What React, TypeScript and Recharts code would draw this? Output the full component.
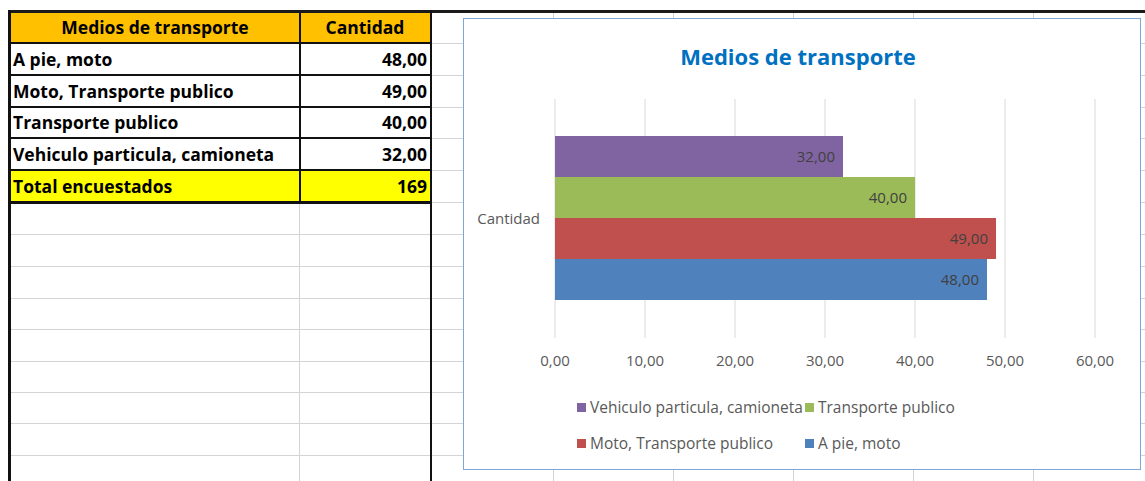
import React from 'react';
import { BarChart, Bar, XAxis, YAxis, CartesianGrid, Legend, LabelList } from 'recharts';

// data from the sheet
const categories = ['A pie, moto', 'Moto, Transporte publico', 'Transporte publico', 'Vehiculo particula, camioneta'];
const values = [48, 49, 40, 32];
const colors = ['#4F81BD', '#C0504D', '#9BBB59', '#8064A2'];
const xTicks = [0, 10, 20, 30, 40, 50, 60];
const rowLabel = 'Cantidad';
const headerLabels = ['Medios de transporte', 'Cantidad'];
const totalLabel = 'Total encuestados';

const fmt = (v: number) => Number(v).toFixed(2).replace('.', ',');

// single category row, one key per medio
const chartData = [Object.fromEntries([['name', rowLabel], ...categories.map((c, i) => [c, values[i]])])];

// excel draws the first series at the bottom, so reverse the order
const barOrder = [3, 2, 1, 0];

const FONT = "'Open Sans', 'Noto Sans', sans-serif";
const gridGray = '#d4d4d4';

// spreadsheet grid positions
const rowLines = [43, 75, 107, 138, 170, 202, 234, 266, 298, 329, 361, 392, 423, 455];
const colLines = [553, 673, 793, 913, 1033];
const tableRows = [12, 43, 75, 107, 138, 170, 202];

function Sheet() {
  const total = values.reduce((a, b) => a + b, 0);
  const cell = (top: number, h: number, left: number, w: number, text: string | number, align: 'left' | 'right' | 'center') => (
    <div
      style={{
        position: 'absolute', top, left, width: w, height: h, lineHeight: h + 'px',
        textAlign: align, fontWeight: 700, fontSize: 17.5, color: '#000',
        paddingLeft: align === 'left' ? 3 : 0, paddingRight: align === 'right' ? 3 : 0,
        boxSizing: 'border-box', whiteSpace: 'nowrap',
      }}
    >
      {text}
    </div>
  );
  return (
    <>
      {rowLines.map((y) => (
        <div key={'r' + y} style={{ position: 'absolute', left: 10, top: y, width: 1135, height: 1, background: gridGray }} />
      ))}
      {colLines.map((x) => (
        <div key={'c' + x} style={{ position: 'absolute', left: x, top: 12, width: 1, height: 469, background: gridGray }} />
      ))}
      <div style={{ position: 'absolute', left: 299, top: 12, width: 1, height: 469, background: gridGray }} />
      <div style={{ position: 'absolute', left: 10, top: 12, width: 420, height: 31, background: '#FFC000' }} />
      <div style={{ position: 'absolute', left: 10, top: 171, width: 420, height: 31, background: '#FFFF00' }} />
      {tableRows.slice(1).map((y, i) => (
        <div key={'b' + y} style={{ position: 'absolute', left: 10, top: y - 1, width: 420, height: i === 5 ? 3 : 2, background: '#111' }} />
      ))}
      <div style={{ position: 'absolute', left: 299, top: 12, width: 2, height: 191, background: '#111' }} />
      <div style={{ position: 'absolute', left: 8, top: 10, width: 1137, height: 2.5, background: '#1a1a1a' }} />
      <div style={{ position: 'absolute', left: 8, top: 10, width: 2.5, height: 471, background: '#111' }} />
      <div style={{ position: 'absolute', left: 429.5, top: 10, width: 2.5, height: 471, background: '#111' }} />
      {cell(12, 31, 10, 290, headerLabels[0], 'center')}
      {cell(12, 31, 300, 130, headerLabels[1], 'center')}
      {categories.map((c, i) => (
        <React.Fragment key={c}>
          {cell(tableRows[i + 1], tableRows[i + 2] - tableRows[i + 1], 10, 290, c, 'left')}
          {cell(tableRows[i + 1], tableRows[i + 2] - tableRows[i + 1], 300, 130, fmt(values[i]), 'right')}
        </React.Fragment>
      ))}
      {cell(170, 32, 10, 290, totalLabel, 'left')}
      {cell(170, 32, 300, 130, total, 'right')}
    </>
  );
}

function LegendGrid(props: any) {
  // keep the bar order: purple, green on top row, red, blue below
  const items = [...(props.payload || [])].sort(
    (a: any, b: any) => barOrder.indexOf(categories.indexOf(a.value)) - barOrder.indexOf(categories.indexOf(b.value)),
  );
  return (
    <div style={{ display: 'grid', gridTemplateColumns: '228px 228px', paddingLeft: 113, fontFamily: FONT }}>
      {items.map((it: any) => (
        <div key={it.value} style={{ height: 36, display: 'flex', alignItems: 'center', fontSize: 15.5, color: '#595959', whiteSpace: 'nowrap' }}>
          <span style={{ width: 9, height: 9, background: it.color, marginRight: 4, display: 'inline-block' }} />
          {it.value}
        </div>
      ))}
    </div>
  );
}

export default function App() {
  return (
    <div style={{ position: 'absolute', left: 0, top: 0, width: 1145, height: 481, overflow: 'hidden', background: '#fff', fontFamily: FONT }}>
      <Sheet />
      <div style={{ position: 'absolute', left: 463, top: 18, width: 676, height: 450, border: '1px solid #7FA6D8', background: '#fff' }}>
        <div style={{ position: 'absolute', top: 22, left: 0, width: 668, height: 30, lineHeight: '30px', textAlign: 'center', fontSize: 22, fontWeight: 700, color: '#0070C0' }}>
          Medios de transporte
        </div>
        <BarChart
          width={676}
          height={450}
          data={chartData}
          layout="vertical"
          margin={{ top: 80, right: 45, bottom: 101, left: 0 }}
          barCategoryGap={37}
          barGap={0}
        >
          <CartesianGrid horizontal={false} stroke="#d9d9d9" />
          <XAxis
            type="number"
            domain={[0, 60]}
            ticks={xTicks}
            interval={0}
            axisLine={false}
            tickLine={false}
            tickSize={0}
            tickMargin={17}
            height={30}
            tickFormatter={fmt}
            tick={{ fill: '#595959', fontSize: 15, fontFamily: FONT }}
          />
          <YAxis
            type="category"
            dataKey="name"
            width={91}
            axisLine={false}
            tickLine={false}
            tickSize={0}
            tickMargin={15}
            tick={{ fill: '#595959', fontSize: 15, fontFamily: FONT }}
          />
          <Legend
            verticalAlign="middle"
            align="center"
            wrapperStyle={{ left: 0, top: 370, width: 676 }}
            content={LegendGrid}
          />
          {barOrder.map((i) => (
            <Bar key={categories[i]} dataKey={categories[i]} name={categories[i]} fill={colors[i]} isAnimationActive={false}>
              <LabelList dataKey={categories[i]} position="insideRight" offset={8} fill="#404040" fontSize={15} fontFamily={FONT} formatter={(v: any) => fmt(v)} />
            </Bar>
          ))}
        </BarChart>
      </div>
    </div>
  );
}
